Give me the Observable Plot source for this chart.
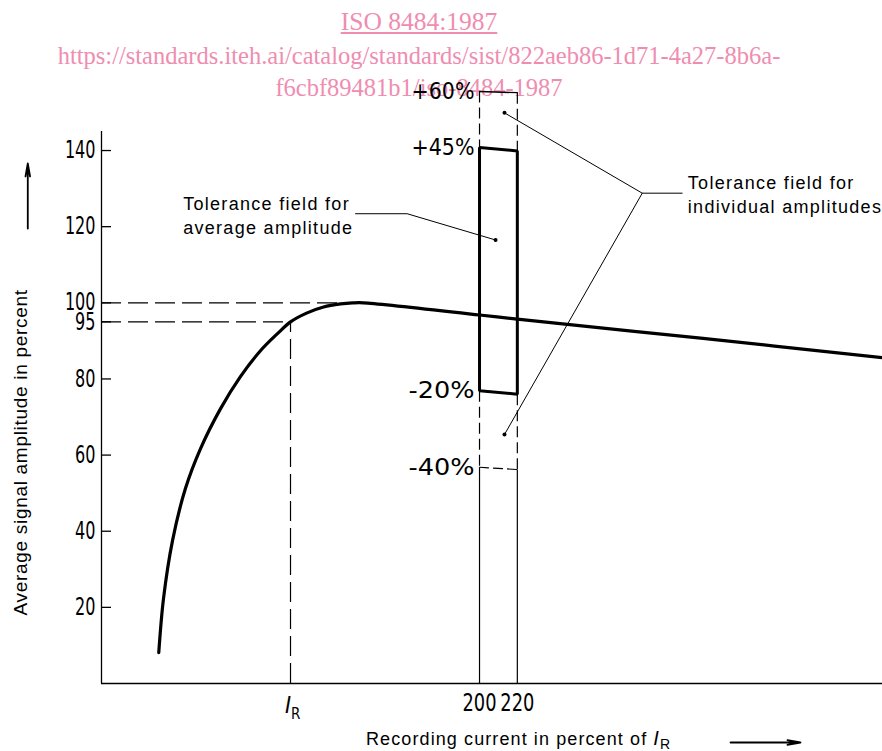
<!DOCTYPE html>
<html>
<head>
<meta charset="utf-8">
<script src="https://cdn.jsdelivr.net/npm/d3@7"></script>
<script src="https://cdn.jsdelivr.net/npm/@observablehq/plot@0.6"></script>
<style>
  body { margin: 0; background: #fff; }
  #wrap { position: relative; width: 882px; height: 751px; overflow: hidden; }
  .wm { position: absolute; left: 0; width: 838px; text-align: center; white-space: nowrap;
        font-family: "Liberation Serif", "Times New Roman", serif; color: #ef8db1; line-height: 1; z-index: 0; }
  #chart { position: absolute; left: 0; top: 0; z-index: 1; }
</style>
</head>
<body>
<div id="wrap">
  <div class="wm" id="wm1" style="top:9px;font-size:25.5px;text-decoration:underline;">ISO 8484:1987</div>
  <div class="wm" id="wm2" style="top:44px;font-size:24.5px;">https://standards.iteh.ai/catalog/standards/sist/822aeb86-1d71-4a27-8b6a-</div>
  <div class="wm" id="wm3" style="top:76px;font-size:24.5px;">f6cbf89481b1/iso-8484-1987</div>
  <div id="chart"></div>
</div>
<script>
// ---------------- data ----------------
const yTicks = [20, 40, 60, 80, 95, 100, 120, 140];
const xTicks = [200, 220];
const xRef = 100;            // I_R
const xRefLevel = 95;        // amplitude at I_R

// characteristic curve: recording current (% of I_R) vs average amplitude (%)
const curveX = [30.3, 32.8, 37.6, 44.4, 52.4, 63.0, 73.5, 84.1, 93.1, 100, 108.5, 117.5, 126.5, 132.8, 138.6, 200, 220, 317, 413.2];
const curveY = [8.1, 22.3, 37.6, 51.2, 61.7, 72.2, 80.6, 87.4, 91.9, 95, 97.3, 98.9, 99.7, 99.97, 100, 96.8, 95.7, 90.7, 85.6];

// tolerance fields at 200 % and 220 %
const boxX = [200, 220];
const boxTop = [140.8, 139.9];     // +45 %
const boxBottom = [76.9, 76.0];    // -20 %
const outerTop = [155.5, 155.2];   // +60 %
const outerBottom = [56.8, 56.2];  // -40 %
const pctLabels = ["+60%", "+45%", "-20%", "-40%"];
const pctValues = [155.5, 140.8, 76.9, 56.8];

// dashed guides at 100 % and 95 %
const guideY = [100, 95];
const guideXEnd = [134.4, 100];

// annotations
const avgNote = "Tolerance field for\naverage amplitude";
const indNote = "Tolerance field for\nindividual amplitudes";
const avgLeaderX = [134.4, 161.7, 208.5];
const avgLeaderY = [123.4, 123.4, 116.5];
const indLeaderX = [307.2, 286.1, 213.2];
const indLeaderY = [128.8, 128.8, 149.9];
const indLeader2X = [286.1, 213.2];
const indLeader2Y = [128.8, 65.4];
const yTitle = "Average signal amplitude in percent";
const xTitle = "Recording current in percent of ";

// ---------------- build ----------------
const curve = curveX.map((x, i) => ({x, y: curveY[i]}));
const box = boxX.map((x, i) => ({x, top: boxTop[i], bottom: boxBottom[i], otop: outerTop[i], obot: outerBottom[i]}));
const solidBox = [
  {x: boxX[0], y: boxTop[0]}, {x: boxX[1], y: boxTop[1]},
  {x: boxX[1], y: boxBottom[1]}, {x: boxX[0], y: boxBottom[0]}
];
const avgLeader = avgLeaderX.map((x, i) => ({x, y: avgLeaderY[i]}));
const indLeader = [
  ...indLeaderX.map((x, i) => ({x, y: indLeaderY[i], k: "a"})),
  ...indLeader2X.map((x, i) => ({x, y: indLeader2Y[i], k: "b"}))
];
const leaderDots = [
  {x: avgLeaderX[2], y: avgLeaderY[2]},
  {x: indLeaderX[2], y: indLeaderY[2]},
  {x: indLeader2X[1], y: indLeader2Y[1]}
];
const pct = pctLabels.map((t, i) => ({t, y: pctValues[i]}));

const narrow = "'Liberation Sans Narrow', 'DejaVu Sans Condensed', 'DejaVu Sans', sans-serif";
const sans = "'Liberation Sans', Arial, sans-serif";
const dashLong = "20,7";
const dashShort = "11,5";

const chart = Plot.plot({
  width: 882,
  height: 751,
  marginLeft: 101,
  marginRight: 0,
  marginTop: 131,
  marginBottom: 68,
  x: {domain: [0, 413.2]},
  y: {domain: [0, 145]},
  style: {background: "transparent", fontFamily: sans, fontSize: "18px", color: "#000", overflow: "visible"},
  marks: [
    // axes
    Plot.ruleX([0], {stroke: "#000", strokeWidth: 1.3}),
    Plot.ruleY([0], {stroke: "#000", strokeWidth: 1.3}),
    Plot.ruleY(yTicks, {y: d => d, x1: 0, x2: 5.3, stroke: "#000", strokeWidth: 1.3}),
    Plot.axisY({ticks: yTicks, tickSize: 0, tickPadding: 6, fontSize: 24, fontFamily: narrow, tickFormat: d => String(d), label: null}),
    Plot.axisX({ticks: xTicks, tickSize: 0, tickPadding: 10, fontSize: 24, fontFamily: narrow, tickFormat: d => String(d), label: null}),
    // guides
    Plot.ruleY(guideY, {y: d => d, x1: 0, x2: (d, i) => guideXEnd[i], stroke: "#000", strokeWidth: 1.2, strokeDasharray: dashLong}),
    Plot.ruleX([xRef], {x: d => d, y1: 0, y2: xRefLevel, stroke: "#000", strokeWidth: 1.2, strokeDasharray: dashLong}),
    // tolerance fields
    Plot.link(box, {x1: "x", x2: "x", y1: "otop", y2: "top", stroke: "#000", strokeWidth: 1.2, strokeDasharray: dashShort}),
    Plot.link(box, {x1: "x", x2: "x", y1: "bottom", y2: "obot", stroke: "#000", strokeWidth: 1.2, strokeDasharray: dashShort}),
    Plot.link(box, {x1: "x", x2: "x", y1: "obot", y2: 0, stroke: "#000", strokeWidth: 1.2}),
    Plot.line(box, {x: "x", y: "otop", stroke: "#000", strokeWidth: 1.4}),
    Plot.line(box, {x: "x", y: "obot", stroke: "#000", strokeWidth: 1.2, strokeDasharray: "9,5"}),
    Plot.line(solidBox, {x: "x", y: "y", curve: "linear-closed", stroke: "#000", strokeWidth: 3, strokeLinejoin: "miter"}),
    // characteristic curve
    Plot.line(curve, {x: "x", y: "y", curve: "catmull-rom", stroke: "#000", strokeWidth: 3.2, strokeLinecap: "round"}),
    // percentage labels
    Plot.text(pct, {x: boxX[0], y: "y", text: "t", textAnchor: "end", dx: -5, fontSize: 23, fontFamily: narrow, ariaDescription: "pct"}),
    // leaders
    Plot.line(avgLeader, {x: "x", y: "y", stroke: "#000", strokeWidth: 1}),
    Plot.line(indLeader, {x: "x", y: "y", z: "k", stroke: "#000", strokeWidth: 1}),
    Plot.dot(leaderDots, {x: "x", y: "y", r: 2, fill: "#000"}),
    // annotation texts
    Plot.text([avgNote], {x: 43.2, y: 123.2, text: d => d, textAnchor: "start", lineHeight: 1.33, fontSize: 18, ariaDescription: "note"}),
    Plot.text([indNote], {x: 310.2, y: 128.8, text: d => d, textAnchor: "start", lineHeight: 1.33, fontSize: 18, ariaDescription: "note"}),
    // y title and arrow
    Plot.text([yTitle], {x: -42.9, y: 60.7, text: d => d, rotate: -90, fontSize: 19, ariaDescription: "ytitle"}),
    Plot.arrow([0], {x1: -39, x2: -39, y1: 119.5, y2: 136.6, stroke: "#000", strokeWidth: 1.8, headLength: 11, headAngle: 20}),
    // x arrow
    Plot.arrow([0], {x1: 332.8, x2: 369.8, y1: -15.5, y2: -15.5, stroke: "#000", strokeWidth: 1.8, headLength: 11, headAngle: 20})
  ]
});

document.getElementById("chart").appendChild(chart);

const svg = d3.select(chart);
svg.selectAll('g[aria-description="note"] text').style("letter-spacing", "1.3px");
svg.selectAll('g[aria-description="ytitle"] text').style("letter-spacing", "0.7px");

// condensed look of the drawing's lettering
function fitWidth(sel, widthFn) {
  sel.each(function () {
    const w = widthFn(this.textContent);
    this.setAttribute("textLength", w);
    this.setAttribute("lengthAdjust", "spacingAndGlyphs");
  });
}
fitWidth(svg.selectAll('g[aria-label="y-axis tick label"] text'), t => 10.2 * t.length);
fitWidth(svg.selectAll('g[aria-label="x-axis tick label"] text'), t => 34);
fitWidth(svg.selectAll('g[aria-description="pct"] text'), t => (t[0] === "+" ? 63 : 66));

const sx = chart.scale("x");
// I_R tick label
const ir = svg.append("text")
  .attr("x", sx.apply(xRef) - 5)
  .attr("y", 713)
  .attr("text-anchor", "start")
  .attr("font-family", narrow)
  .attr("font-size", 23)
  .attr("fill", "#000");
ir.append("tspan").attr("font-style", "italic").text("I");
ir.append("tspan").attr("font-size", 15).attr("dy", 6).text("R");

// x title
const xt = svg.append("text")
  .attr("x", 366)
  .attr("y", 745)
  .attr("text-anchor", "start")
  .attr("font-family", sans)
  .attr("font-size", 18)
  .style("letter-spacing", "1.1px")
  .attr("fill", "#000");
xt.append("tspan").text(xTitle);
xt.append("tspan").attr("font-style", "italic").attr("font-size", 20).text("I");
xt.append("tspan").attr("font-size", 14).attr("dy", 4).text("R");
</script>
</body>
</html>
